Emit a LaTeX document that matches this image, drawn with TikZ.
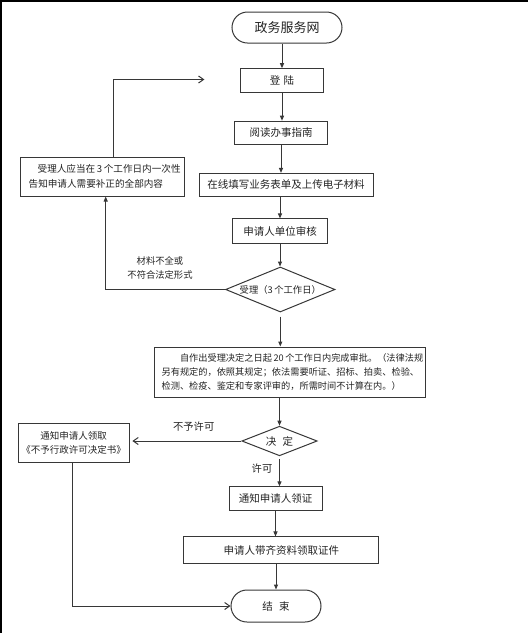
\documentclass[tikz,border=0pt]{standalone}
\usepackage{fontspec}
\setmainfont{Noto Sans CJK SC}
\usetikzlibrary{arrows.meta,shapes.geometric}
\definecolor{linec}{RGB}{55,55,55}
\definecolor{txtc}{RGB}{35,35,35}
\begin{document}
\begin{tikzpicture}[x=1pt,y=-1pt,
  pbox/.style={draw=linec, line width=1pt, inner sep=0pt, align=center, text=txtc},
  term/.style={pbox, rounded corners=15pt},
  dec/.style={diamond, draw=linec, line width=1pt, inner sep=0pt, text=txtc},
  lbl/.style={inner sep=0pt, align=center, text=txtc},
  arr/.style={draw=linec, line width=1pt, -{Triangle[length=5pt,width=4pt]}},
  openarr/.style={draw=linec, line width=1pt, -{Straight Barb[length=5pt,width=7pt]}}
]
\useasboundingbox (0,0) rectangle (528,633);
\fill[black] (0,0) rectangle (528,2.2);
\fill[black] (0,0) rectangle (1.8,633);

% main column
\node[term, minimum width=110pt, minimum height=31pt, rounded corners=15.5pt,
  font=\fontsize{13}{16}\selectfont] (web) at (287,27.5) {政务服务网};
\node[pbox, minimum width=83pt, minimum height=23.6pt,
  font=\fontsize{10.5}{13}\selectfont] (login) at (282,80.5) {登\hspace{0.3em}陆};
\node[pbox, minimum width=92.6pt, minimum height=23.6pt,
  font=\fontsize{10.5}{13}\selectfont] (guide) at (281,133) {阅读办事指南};
\node[pbox, minimum width=174pt, minimum height=22.6pt,
  font=\fontsize{10.5}{13}\selectfont] (fill) at (286,184.7) {在线填写业务表单及上传电子材料};
\node[pbox, minimum width=95pt, minimum height=24.5pt,
  font=\fontsize{10.5}{13}\selectfont] (review) at (280,231.2) {申请人单位审核};
\node[dec, aspect=2.4, minimum width=109.4pt, minimum height=45pt,
  font=\fontsize{9.3}{12}\selectfont] (acc) at (280.3,289.5) {受理（3\,个工作日）};
\node[pbox, minimum width=270.8pt, minimum height=50.8pt, text width=256pt, align=left,
  font=\fontsize{9.2}{14}\selectfont] (big) at (289.6,372.4)
  {\hspace*{2em}自作出受理决定之日起\,20\,个工作日内完成审批。（法律法规\\
   另有规定的，依照其规定；依法需要听证、招标、拍卖、检验、\\
   检测、检疫、鉴定和专家评审的，所需时间不计算在内。）};
\node[dec, aspect=2.55, minimum width=75.4pt, minimum height=29.6pt,
  font=\fontsize{10.5}{13}\selectfont] (dec) at (279.5,441) {决\hspace{0.6em}定};
\node[pbox, minimum width=93pt, minimum height=23.5pt,
  font=\fontsize{10.5}{13}\selectfont] (permit) at (275.5,498.6) {通知申请人领证};
\node[pbox, minimum width=195pt, minimum height=26.3pt,
  font=\fontsize{10.5}{13}\selectfont] (collect) at (281.3,550.1) {申请人带齐资料领取证件};
\node[term, minimum width=90pt, minimum height=32pt, rounded corners=16pt,
  font=\fontsize{10.5}{13}\selectfont] (end) at (276,606) {结\hspace{0.6em}束};

% side boxes
\node[pbox, minimum width=163.6pt, minimum height=38.4pt, text width=148pt, align=left,
  font=\fontsize{9.6}{15}\selectfont] (notify) at (102.7,176.8)
  {\hspace*{9pt}受理人应当在\,3\,个工作日内一次性\\告知申请人需要补正的全部内容};
\node[pbox, minimum width=111pt, minimum height=39pt,
  font=\fontsize{9.5}{14}\selectfont] (notify2) at (73.7,443)
  {通知申请人领取\\《不予行政许可决定书》};

% labels
\node[lbl, font=\fontsize{9.3}{14}\selectfont] (lblmat) at (160,268) {材料不全或\\不符合法定形式};
\node[lbl, font=\fontsize{10.3}{13}\selectfont] (lblno) at (193.7,427) {不予许可};
\node[lbl, font=\fontsize{10.3}{13}\selectfont] (lblyes) at (262,469) {许可};

% main flow
\draw[arr] (login.north |- web.south) -- (login.north);
\draw[arr] (login.south) -- (login.south |- guide.north);
\draw[arr] (guide.south) -- (guide.south |- fill.north);
\draw[arr] (review.north |- fill.south) -- (review.north);
\draw[arr] (review.south) -- (review.south |- acc.north);
\draw[arr, shorten <=4pt] (acc.south) -- (acc.south |- big.north);
\draw[arr] (dec.north |- big.south) -- (dec.north);
\draw[arr, shorten <=2.5pt] (dec.south) -- (dec.south |- permit.north);
\draw[arr] (permit.south) -- (permit.south |- collect.north);
\draw[arr] (end.north |- collect.south) -- (end.north);

% feedback loop
\coordinate (fbend) at (204.4,79.5);
\draw[arr] (acc.west) -| ([xshift=3pt]notify.south);
\draw[openarr] ([xshift=11.1pt]notify.north) |- (fbend);

% refusal branch
\draw[openarr, shorten >=2.7pt] (dec.west) -- (dec.west -| notify2.east);
\draw[openarr] ([xshift=-1pt]notify2.south) |- (end.west);
\end{tikzpicture}
\end{document}
